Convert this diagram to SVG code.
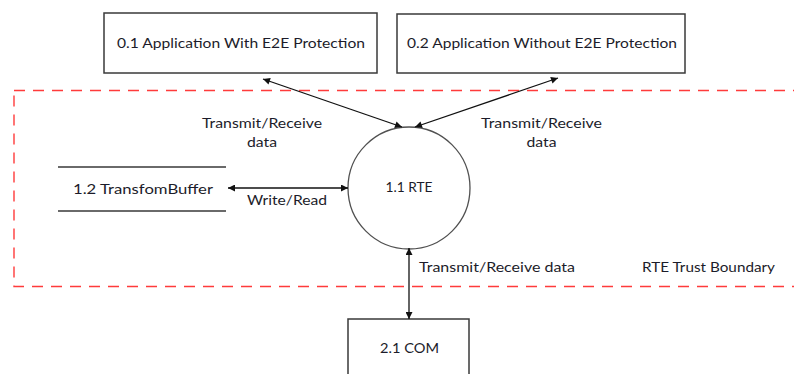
<svg xmlns="http://www.w3.org/2000/svg" width="794" height="374" viewBox="0 0 794 374">
  <style>
    .box { fill: #ffffff; stroke: #3a3a3a; stroke-width: 1.5; }
    .proc { fill: #ffffff; stroke: #505050; stroke-width: 1.3; }
    .store { stroke: #6a6a6a; stroke-width: 2; }
    .flow { stroke: #111111; stroke-width: 1.3; fill: none; marker-start: url(#head); marker-end: url(#head); }
    .boundary { fill: none; stroke: #ff3b3b; stroke-width: 1.4; stroke-dasharray: 11 8; }
    text { font-family: Lato, "Open Sans", "Liberation Sans", sans-serif; font-size: 14px; fill: #1c1c2a; }
    .c { text-anchor: middle; }
  </style>
  <defs>
    <marker id="head" viewBox="0 0 10 10" refX="10" refY="5" markerWidth="9" markerHeight="7" markerUnits="userSpaceOnUse" orient="auto-start-reverse">
      <path d="M0,0 L10,5 L0,10 Z" fill="#111111"/>
    </marker>
  </defs>

  <!-- trust boundary around the runtime environment -->
  <g id="rte-trust-boundary">
    <rect class="boundary" x="14" y="90.5" width="800" height="196"/>
    <text x="642" y="272" textLength="133" lengthAdjust="spacingAndGlyphs">RTE Trust Boundary</text>
  </g>

  <g id="app-e2e">
    <rect class="box" x="104" y="13" width="273" height="60"/>
    <text class="c" x="241" y="48" textLength="248" lengthAdjust="spacingAndGlyphs">0.1 Application With E2E Protection</text>
  </g>

  <g id="app-no-e2e">
    <rect class="box" x="397" y="14" width="288" height="59"/>
    <text class="c" x="542" y="48" textLength="270" lengthAdjust="spacingAndGlyphs">0.2 Application Without E2E Protection</text>
  </g>

  <g id="rte">
    <circle class="proc" cx="409" cy="188" r="61"/>
    <text class="c" x="409" y="192" textLength="47" lengthAdjust="spacingAndGlyphs">1.1 RTE</text>
  </g>

  <g id="transform-buffer">
    <line class="store" x1="58" y1="167" x2="226" y2="167"/>
    <line class="store" x1="58" y1="211" x2="226" y2="211"/>
    <text class="c" x="143" y="194" textLength="140" lengthAdjust="spacingAndGlyphs">1.2 TransfomBuffer</text>
  </g>

  <g id="com">
    <rect class="box" x="348" y="319" width="121" height="70"/>
    <text class="c" x="409.5" y="353" textLength="59" lengthAdjust="spacingAndGlyphs">2.1 COM</text>
  </g>

  <!-- data flows -->
  <g id="connectors">
    <line class="flow" x1="402" y1="127" x2="263" y2="79"/>
    <line class="flow" x1="415" y1="127" x2="558" y2="78"/>
    <line class="flow" x1="348" y1="188" x2="228" y2="188"/>
    <line class="flow" x1="409" y1="248" x2="409" y2="319"/>

    <text class="c" x="262" y="128" textLength="120" lengthAdjust="spacingAndGlyphs">Transmit/Receive</text>
    <text class="c" x="262" y="147" textLength="30" lengthAdjust="spacingAndGlyphs">data</text>
    <text class="c" x="541.5" y="128" textLength="121" lengthAdjust="spacingAndGlyphs">Transmit/Receive</text>
    <text class="c" x="541.5" y="147" textLength="30" lengthAdjust="spacingAndGlyphs">data</text>
    <text class="c" x="287" y="205" textLength="80" lengthAdjust="spacingAndGlyphs">Write/Read</text>
    <text x="419" y="272" textLength="156" lengthAdjust="spacingAndGlyphs">Transmit/Receive data</text>
  </g>
</svg>
